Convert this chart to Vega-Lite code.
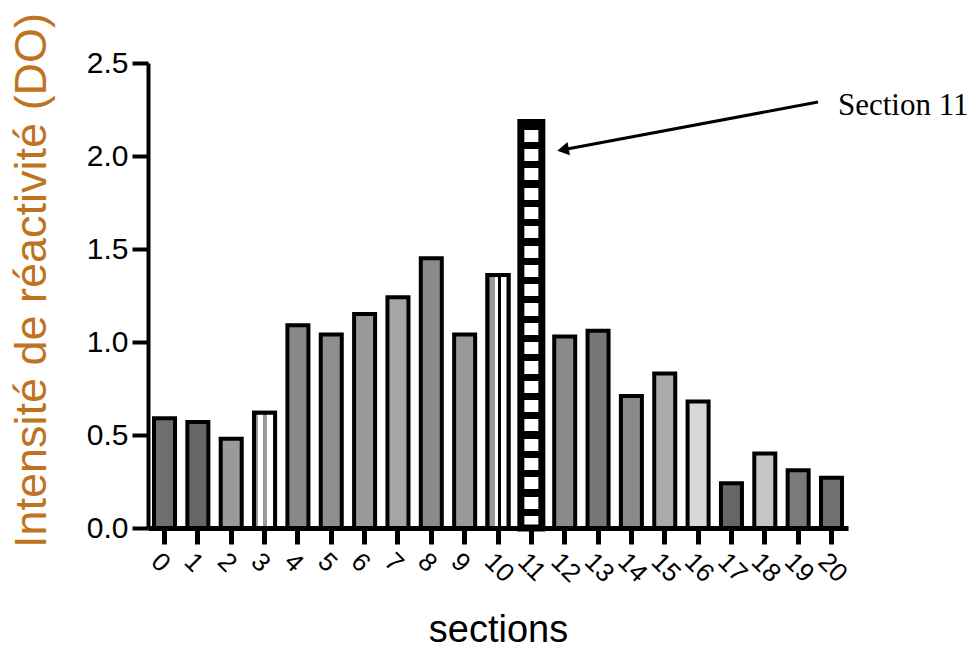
{
  "$schema": "https://vega.github.io/schema/vega-lite/v6.json",
  "width": 700,
  "height": 465,
  "autosize": {"type": "none"},
  "padding": {"left": 148, "top": 63, "right": 128, "bottom": 131},
  "background": "white",
  "config": {"view": {"stroke": null}, "font": "Liberation Sans"},
  "layer": [
    {
      "data": {"values": [
        {"section": 0, "value": 0.59}, {"section": 1, "value": 0.57}, {"section": 2, "value": 0.48},
        {"section": 3, "value": 0.62}, {"section": 4, "value": 1.09}, {"section": 5, "value": 1.04},
        {"section": 6, "value": 1.15}, {"section": 7, "value": 1.24}, {"section": 8, "value": 1.45},
        {"section": 9, "value": 1.04}, {"section": 10, "value": 1.36}, {"section": 11, "value": 2.18},
        {"section": 12, "value": 1.03}, {"section": 13, "value": 1.06}, {"section": 14, "value": 0.71},
        {"section": 15, "value": 0.83}, {"section": 16, "value": 0.68}, {"section": 17, "value": 0.24},
        {"section": 18, "value": 0.40}, {"section": 19, "value": 0.31}, {"section": 20, "value": 0.27}
      ]},
      "encoding": {
        "x": {
          "field": "section", "type": "ordinal",
          "scale": {"paddingInner": 0.37, "paddingOuter": 0.18},
          "axis": {
            "title": "sections", "titleFontSize": 38, "titleFontWeight": "normal", "titleColor": "black",
            "titleBaseline": "alphabetic", "titleY": 113,
            "labelAngle": 45, "labelAlign": "left", "labelBaseline": "top", "labelFontSize": 26,
            "labelColor": "black", "labelPadding": 4, "labelOverlap": false, "labelDx": -4,
            "domainColor": "black", "domainWidth": 5, "tickColor": "black", "tickWidth": 5, "tickSize": 16,
            "grid": false
          }
        },
        "y": {
          "field": "value", "type": "quantitative",
          "scale": {"domain": [0, 2.5], "nice": false},
          "axis": {
            "title": "Intensité de réactivité (DO)", "titleFontSize": 45, "titleFontWeight": "normal",
            "titleColor": "#C0731F", "titleBaseline": "alphabetic", "titleAngle": -90,
            "titleX": -103, "titleY": 217, "titleAlign": "center",
            "values": [0, 0.5, 1, 1.5, 2, 2.5], "format": ".1f",
            "labelFontSize": 30, "labelColor": "black", "labelPadding": 4,
            "domainColor": "black", "domainWidth": 4, "tickColor": "black", "tickWidth": 4, "tickSize": 16,
            "grid": false
          }
        }
      },
      "layer": [
        {
          "mark": {"type": "bar", "stroke": "black", "strokeWidth": 4},
          "encoding": {
            "fill": {
              "field": "section", "type": "nominal", "legend": null,
              "scale": {"range": ["#6e6e6e", "#666666", "#9a9a9a", "#c8c8c8", "#888888", "#8e8e8e", "#999999", "#a5a5a5", "#8a8a8a", "#999999", "#b0b0b0", "#7a7a7a", "#8a8a8a", "#777777", "#8a8a8a", "#aaaaaa", "#d8d8d8", "#666666", "#c5c5c5", "#7a7a7a", "#707070"]}
            }
          }
        },
        {
          "transform": [{"filter": "datum.section == 11"}],
          "mark": {"type": "bar", "stroke": "black", "strokeWidth": 7, "fill": {
            "gradient": "linear", "x1": 0, "y1": 0, "x2": 0, "y2": 1,
            "stops": [
              {"offset": 0, "color": "black"}, {"offset": 0.0176, "color": "black"}, {"offset": 0.0176, "color": "white"}, {"offset": 0.0476, "color": "white"},
              {"offset": 0.0476, "color": "black"}, {"offset": 0.0652, "color": "black"}, {"offset": 0.0652, "color": "white"}, {"offset": 0.0952, "color": "white"},
              {"offset": 0.0952, "color": "black"}, {"offset": 0.1128, "color": "black"}, {"offset": 0.1128, "color": "white"}, {"offset": 0.1429, "color": "white"},
              {"offset": 0.1429, "color": "black"}, {"offset": 0.1605, "color": "black"}, {"offset": 0.1605, "color": "white"}, {"offset": 0.1905, "color": "white"},
              {"offset": 0.1905, "color": "black"}, {"offset": 0.2081, "color": "black"}, {"offset": 0.2081, "color": "white"}, {"offset": 0.2381, "color": "white"},
              {"offset": 0.2381, "color": "black"}, {"offset": 0.2557, "color": "black"}, {"offset": 0.2557, "color": "white"}, {"offset": 0.2857, "color": "white"},
              {"offset": 0.2857, "color": "black"}, {"offset": 0.3033, "color": "black"}, {"offset": 0.3033, "color": "white"}, {"offset": 0.3333, "color": "white"},
              {"offset": 0.3333, "color": "black"}, {"offset": 0.3509, "color": "black"}, {"offset": 0.3509, "color": "white"}, {"offset": 0.3810, "color": "white"},
              {"offset": 0.3810, "color": "black"}, {"offset": 0.3986, "color": "black"}, {"offset": 0.3986, "color": "white"}, {"offset": 0.4286, "color": "white"},
              {"offset": 0.4286, "color": "black"}, {"offset": 0.4462, "color": "black"}, {"offset": 0.4462, "color": "white"}, {"offset": 0.4762, "color": "white"},
              {"offset": 0.4762, "color": "black"}, {"offset": 0.4938, "color": "black"}, {"offset": 0.4938, "color": "white"}, {"offset": 0.5238, "color": "white"},
              {"offset": 0.5238, "color": "black"}, {"offset": 0.5414, "color": "black"}, {"offset": 0.5414, "color": "white"}, {"offset": 0.5714, "color": "white"},
              {"offset": 0.5714, "color": "black"}, {"offset": 0.5890, "color": "black"}, {"offset": 0.5890, "color": "white"}, {"offset": 0.6190, "color": "white"},
              {"offset": 0.6190, "color": "black"}, {"offset": 0.6366, "color": "black"}, {"offset": 0.6366, "color": "white"}, {"offset": 0.6667, "color": "white"},
              {"offset": 0.6667, "color": "black"}, {"offset": 0.6843, "color": "black"}, {"offset": 0.6843, "color": "white"}, {"offset": 0.7143, "color": "white"},
              {"offset": 0.7143, "color": "black"}, {"offset": 0.7319, "color": "black"}, {"offset": 0.7319, "color": "white"}, {"offset": 0.7619, "color": "white"},
              {"offset": 0.7619, "color": "black"}, {"offset": 0.7795, "color": "black"}, {"offset": 0.7795, "color": "white"}, {"offset": 0.8095, "color": "white"},
              {"offset": 0.8095, "color": "black"}, {"offset": 0.8271, "color": "black"}, {"offset": 0.8271, "color": "white"}, {"offset": 0.8571, "color": "white"},
              {"offset": 0.8571, "color": "black"}, {"offset": 0.8747, "color": "black"}, {"offset": 0.8747, "color": "white"}, {"offset": 0.9048, "color": "white"},
              {"offset": 0.9048, "color": "black"}, {"offset": 0.9224, "color": "black"}, {"offset": 0.9224, "color": "white"}, {"offset": 0.9524, "color": "white"},
              {"offset": 0.9524, "color": "black"}, {"offset": 0.9700, "color": "black"}, {"offset": 0.9700, "color": "white"}, {"offset": 1, "color": "white"}
            ]
          }}
        },
        {
          "transform": [{"filter": "datum.section == 3"}],
          "mark": {"type": "bar", "stroke": "black", "strokeWidth": 4, "fill": {
            "gradient": "linear", "x1": 0, "y1": 0, "x2": 1, "y2": 0,
            "stops": [
              {"offset": 0, "color": "#999999"}, {"offset": 0.18, "color": "#999999"}, {"offset": 0.18, "color": "white"},
              {"offset": 0.42, "color": "white"}, {"offset": 0.42, "color": "#999999"}, {"offset": 0.6, "color": "#999999"},
              {"offset": 0.6, "color": "white"}, {"offset": 1, "color": "white"}
            ]
          }}
        },
        {
          "transform": [{"filter": "datum.section == 10"}],
          "mark": {"type": "bar", "stroke": "black", "strokeWidth": 4, "fill": {
            "gradient": "linear", "x1": 0, "y1": 0, "x2": 1, "y2": 0,
            "stops": [
              {"offset": 0, "color": "#999999"}, {"offset": 0.35, "color": "#999999"}, {"offset": 0.35, "color": "white"},
              {"offset": 0.48, "color": "white"}, {"offset": 0.48, "color": "black"}, {"offset": 0.66, "color": "black"},
              {"offset": 0.66, "color": "white"}, {"offset": 1, "color": "white"}
            ]
          }}
        }
      ]
    },
    {
      "data": {"values": [{"x1": 19.42, "y1": 2.29, "x2": 11.77, "y2": 2.034}]},
      "mark": {"type": "rule", "color": "black", "strokeWidth": 3},
      "encoding": {
        "x": {"field": "x1", "type": "quantitative", "scale": {"domain": [-0.68, 20.32], "zero": false, "nice": false}, "axis": null},
        "x2": {"field": "x2"},
        "y": {"field": "y1", "type": "quantitative"},
        "y2": {"field": "y2"}
      }
    },
    {
      "data": {"values": [{"x": 11.77, "y": 2.034}]},
      "mark": {"type": "point", "shape": "triangle-left", "filled": true, "color": "black", "size": 180, "angle": 349.6, "opacity": 1},
      "encoding": {
        "x": {"field": "x", "type": "quantitative", "scale": {"domain": [-0.68, 20.32], "zero": false, "nice": false}, "axis": null},
        "y": {"field": "y", "type": "quantitative"}
      }
    },
    {
      "data": {"values": [{"x": 20.02, "y": 2.22, "label": "Section 11"}]},
      "mark": {"type": "text", "font": "Liberation Serif", "fontSize": 31, "align": "left", "baseline": "alphabetic", "color": "black"},
      "encoding": {
        "x": {"field": "x", "type": "quantitative", "scale": {"domain": [-0.68, 20.32], "zero": false, "nice": false}, "axis": null},
        "y": {"field": "y", "type": "quantitative"},
        "text": {"field": "label"}
      }
    }
  ],
  "resolve": {"scale": {"x": "independent"}}
}
